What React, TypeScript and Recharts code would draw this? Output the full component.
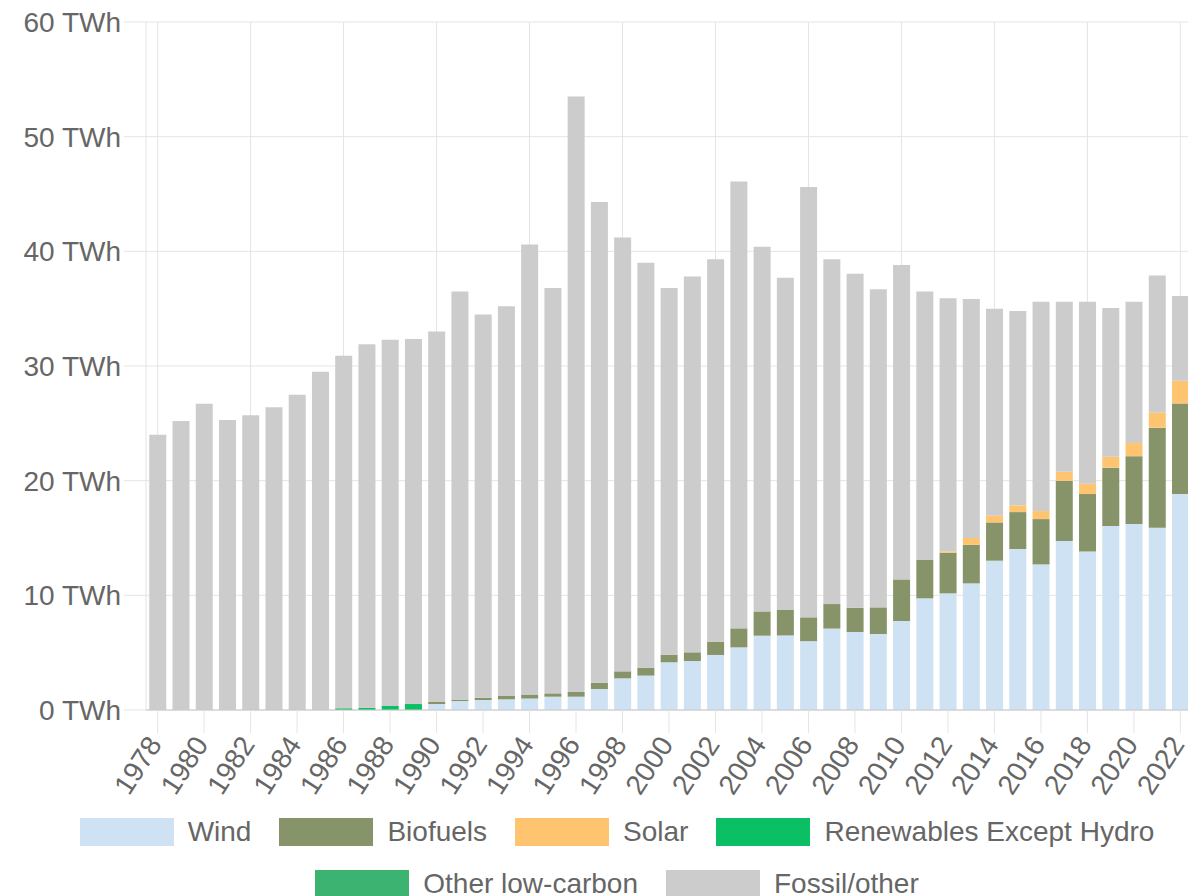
import React from "react";
import { Bar, BarChart, CartesianGrid, Legend, XAxis, YAxis } from "recharts";

const FONT = "'Liberation Sans', Arial, sans-serif";
const TEXT_COLOR = "#666666";
const GRID_COLOR = "#e4e4e4";

const YEARS = [
  "1978", "1979", "1980", "1981", "1982", "1983", "1984", "1985", "1986", "1987",
  "1988", "1989", "1990", "1991", "1992", "1993", "1994", "1995", "1996", "1997",
  "1998", "1999", "2000", "2001", "2002", "2003", "2004", "2005", "2006", "2007",
  "2008", "2009", "2010", "2011", "2012", "2013", "2014", "2015", "2016", "2017",
  "2018", "2019", "2020", "2021", "2022",
];

// labelled years (every other one)
const LABELED_YEARS = [
  "1978", "1980", "1982", "1984", "1986", "1988", "1990", "1992", "1994", "1996",
  "1998", "2000", "2002", "2004", "2006", "2008", "2010", "2012", "2014", "2016",
  "2018", "2020", "2022",
];

const Y_TICKS = [0, 10, 20, 30, 40, 50, 60];

// TWh
const WIND = [
  0, 0, 0, 0, 0, 0, 0, 0, 0, 0,
  0, 0, 0.52, 0.78, 0.87, 0.93, 1.0, 1.16, 1.16, 1.83,
  2.76, 3.0, 4.16, 4.27, 4.8, 5.46, 6.48, 6.5, 6.0, 7.1,
  6.8, 6.63, 7.76, 9.74, 10.17, 11.04, 13.02, 14.04, 12.7, 14.73,
  13.83, 16.04, 16.22, 15.9, 18.83,
];

const BIOFUELS = [
  0.02, 0.02, 0.02, 0.02, 0.04, 0.04, 0.04, 0.04, 0, 0,
  0, 0, 0.18, 0.09, 0.2, 0.3, 0.35, 0.29, 0.41, 0.55,
  0.61, 0.69, 0.67, 0.76, 1.16, 1.66, 2.12, 2.22, 2.08, 2.14,
  2.12, 2.32, 3.63, 3.34, 3.55, 3.37, 3.34, 3.22, 3.95, 5.26,
  5.0, 5.09, 5.92, 8.72, 7.91,
];

const SOLAR = [
  0, 0, 0, 0, 0, 0, 0, 0, 0, 0,
  0, 0, 0, 0, 0, 0, 0, 0, 0, 0,
  0, 0, 0, 0, 0, 0, 0, 0, 0, 0,
  0, 0, 0, 0, 0.12, 0.59, 0.61, 0.59, 0.7, 0.79,
  0.93, 0.96, 1.14, 1.33, 1.97,
];

const RENEWABLES_EX_HYDRO = [
  0, 0, 0, 0, 0, 0, 0, 0, 0.15, 0.2,
  0.35, 0.52, 0, 0, 0, 0, 0, 0, 0, 0,
  0, 0, 0, 0, 0, 0, 0, 0, 0, 0,
  0, 0, 0, 0, 0, 0, 0, 0, 0, 0,
  0, 0, 0, 0, 0,
];

const OTHER_LOW_CARBON = [
  0, 0, 0, 0, 0, 0, 0, 0, 0, 0,
  0, 0, 0, 0, 0, 0, 0, 0, 0, 0,
  0, 0, 0, 0, 0, 0, 0, 0, 0, 0,
  0, 0, 0, 0, 0, 0, 0, 0, 0, 0,
  0, 0, 0, 0, 0,
];

const FOSSIL_OTHER = [
  23.98, 25.18, 26.68, 25.28, 25.66, 26.36, 27.46, 29.46, 30.75, 31.7,
  31.95, 31.83, 32.3, 35.63, 33.43, 33.97, 39.25, 35.35, 51.93, 41.92,
  37.83, 35.31, 31.97, 32.77, 33.34, 38.98, 31.8, 28.98, 37.52, 30.06,
  29.13, 27.75, 27.41, 23.42, 22.06, 20.84, 18.03, 16.95, 18.25, 14.82,
  15.84, 12.96, 12.32, 11.95, 7.39,
];

const SERIES = [
  { key: "wind", name: "Wind", color: "#cfe2f3", values: WIND },
  { key: "biofuels", name: "Biofuels", color: "#87946a", values: BIOFUELS },
  { key: "solar", name: "Solar", color: "#ffc46f", values: SOLAR },
  { key: "renewables", name: "Renewables Except Hydro", color: "#0bbf65", values: RENEWABLES_EX_HYDRO },
  { key: "other", name: "Other low-carbon", color: "#3cb371", values: OTHER_LOW_CARBON },
  { key: "fossil", name: "Fossil/other", color: "#cccccc", values: FOSSIL_OTHER },
];

const data = YEARS.map((year, i) => {
  const row: Record<string, string | number> = { year };
  SERIES.forEach((s) => {
    row[s.key] = s.values[i];
  });
  return row;
});

function YearTick({ x, y, payload }: any) {
  const px = x - 3;
  const py = y + 6;
  return (
    <text
      x={px}
      y={py}
      dy="0.35em"
      textAnchor="end"
      transform={`rotate(-57, ${px}, ${py})`}
      fill={TEXT_COLOR}
      fontSize={28}
      fontFamily={FONT}
    >
      {payload.value}
    </text>
  );
}

function LegendRows() {
  const rows = [SERIES.slice(0, 4), SERIES.slice(4)];
  return (
    <div style={{ width: 1234, fontFamily: FONT }}>
      {rows.map((row, r) => (
        <div
          key={r}
          style={{ display: "flex", justifyContent: "center", height: 52 }}
        >
          {row.map((s) => (
            <div
              key={s.key}
              style={{ display: "flex", alignItems: "center", margin: "0 14px", height: 28 }}
            >
              <span
                style={{
                  display: "inline-block",
                  width: 94,
                  height: 28,
                  background: s.color,
                  marginRight: 14,
                }}
              />
              <span style={{ fontSize: 28, color: TEXT_COLOR, lineHeight: "28px" }}>
                {s.name}
              </span>
            </div>
          ))}
        </div>
      ))}
    </div>
  );
}

export default function App() {
  return (
    <div
      style={{
        position: "absolute",
        left: 0,
        top: 0,
        width: 1188,
        height: 896,
        overflow: "hidden",
        background: "#ffffff",
        fontFamily: FONT,
      }}
    >
      <BarChart
        width={1196}
        height={896}
        data={data}
        margin={{ top: 22, right: 4, left: 0, bottom: 106 }}
        barCategoryGap="14%"
      >
        <CartesianGrid stroke={GRID_COLOR} verticalValues={LABELED_YEARS} />
        <XAxis
          dataKey="year"
          interval={1}
          height={80}
          tickSize={23}
          tickMargin={0}
          tickLine={{ stroke: GRID_COLOR }}
          axisLine={{ stroke: "#c8c8c8" }}
          tick={<YearTick />}
        />
        <YAxis
          width={146}
          domain={[0, 60]}
          ticks={Y_TICKS}
          tickSize={22}
          tickMargin={3}
          tickLine={{ stroke: GRID_COLOR }}
          axisLine={{ stroke: GRID_COLOR }}
          tick={{ fill: TEXT_COLOR, fontSize: 28, fontFamily: FONT }}
          tickFormatter={(v) => `${v} TWh`}
        />
        <Legend
          layout="horizontal"
          verticalAlign="middle"
          align="center"
          wrapperStyle={{ top: 818, left: 0, width: 1234 }}
          content={() => <LegendRows />}
        />
        {SERIES.map((s) => (
          <Bar
            key={s.key}
            dataKey={s.key}
            name={s.name}
            stackId="energy"
            fill={s.color}
            isAnimationActive={false}
          />
        ))}
      </BarChart>
    </div>
  );
}
